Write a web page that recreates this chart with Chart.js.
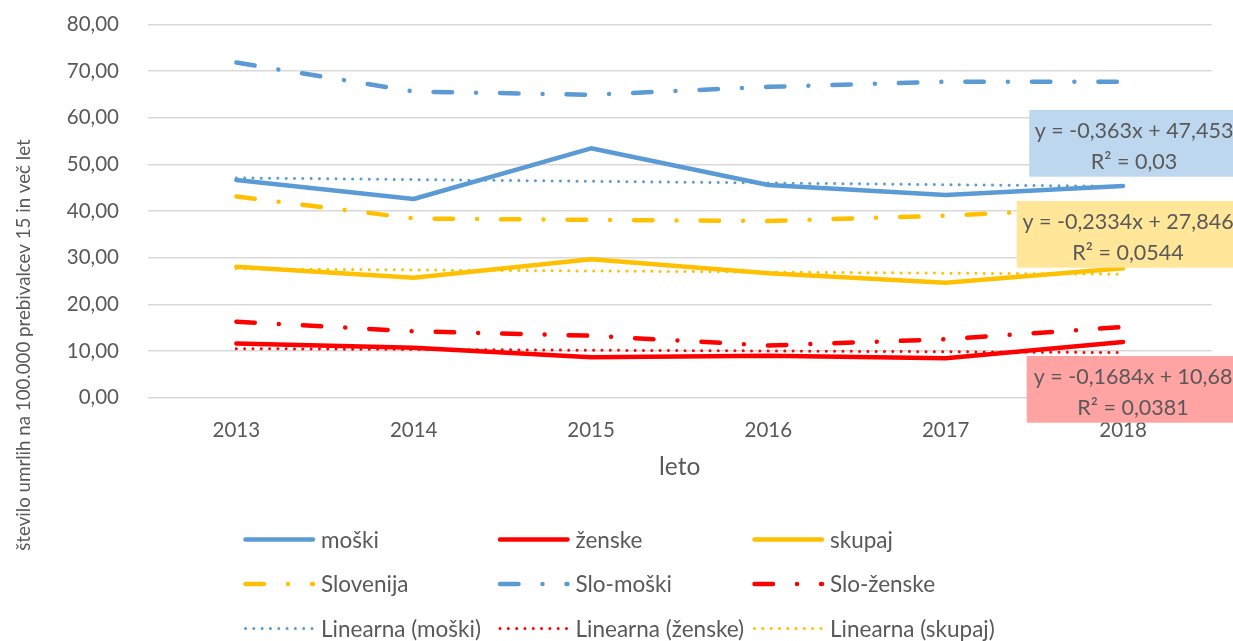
<!DOCTYPE html>
<html>
<head>
<meta charset="utf-8">
<script src="https://cdn.jsdelivr.net/npm/chart.js@4.4.1/dist/chart.umd.min.js"></script>
<style>
html,body{margin:0;padding:0;background:#ffffff;}
#wrap{width:1233px;height:641px;position:relative;}
</style>
</head>
<body>
<div id="wrap"><canvas id="c" width="1233" height="641"></canvas></div>
<script>
// ---- data ----
const categories = ['2013', '2014', '2015', '2016', '2017', '2018'];
const moski = [46.64, 42.57, 53.43, 45.57, 43.43, 45.36];
const zenske = [11.6, 10.71, 8.66, 9.0, 8.44, 11.95];
const skupaj = [28.07, 25.71, 29.65, 26.65, 24.64, 27.72];
const slovenija = [43.1, 38.4, 38.1, 37.86, 39.0, 40.8];
const sloMoski = [71.8, 65.6, 64.9, 66.6, 67.7, 67.7];
const sloZenske = [16.28, 14.22, 13.28, 11.18, 12.53, 15.15];
const trendMoski = [47.09, 46.73, 46.36, 46.0, 45.64, 45.28];
const trendZenske = [10.51, 10.34, 10.17, 10.01, 9.84, 9.67];
const trendSkupaj = [27.61, 27.38, 27.15, 26.91, 26.68, 26.45];
const seriesNames = ['moški', 'ženske', 'skupaj', 'Slovenija', 'Slo-moški', 'Slo-ženske',
  'Linearna (moški)', 'Linearna (ženske)', 'Linearna (skupaj)'];
const yTickLabels = ['0,00', '10,00', '20,00', '30,00', '40,00', '50,00', '60,00', '70,00', '80,00'];
const trendLabels = [
  ['y = -0,363x + 47,453', 'R² = 0,03'],
  ['y = -0,2334x + 27,846', 'R² = 0,0544'],
  ['y = -0,1684x + 10,68', 'R² = 0,0381']
];
const yAxisTitle = 'število umrlih na 100.000 prebivalcev 15 in več let';
const xAxisTitle = 'leto';

// ---- styles ----
const BLUE = '#5B9BD5', RED = '#FF0000', YELLOW = '#FFC000';
const TEXT = '#595959';
const FONT = 'Lato, "Open Sans", sans-serif';
const DASHDOT = [18.5, 24, 0.01, 24];
const DOTS = [0.01, 8.3];

function solid(label, data, color) {
  return { label, data, borderColor: color, backgroundColor: color, borderWidth: 4.5,
    borderCapStyle: 'round', borderJoinStyle: 'round', pointRadius: 0, pointHoverRadius: 0,
    fill: false, tension: 0, order: 2 };
}
function dashdot(label, data, color) {
  return { label, data, borderColor: color, backgroundColor: color, borderWidth: 4.5,
    borderDash: DASHDOT, borderCapStyle: 'round', borderJoinStyle: 'round', pointRadius: 0,
    pointHoverRadius: 0, fill: false, tension: 0, order: 2 };
}
function trend(label, data, color) {
  return { label, data, borderColor: color, backgroundColor: color, borderWidth: 3,
    borderDash: DOTS, borderCapStyle: 'round', borderJoinStyle: 'round', pointRadius: 0,
    pointHoverRadius: 0, fill: false, tension: 0, order: 1 };
}

const excelLegend = {
  id: 'excelLegend',
  afterDraw(chart, args, o) {
    const ctx = chart.ctx;
    chart.data.datasets.forEach((ds, i) => {
      const col = i % 3, row = Math.floor(i / 3);
      const x0 = o.x0 + col * o.colW;
      const y = o.y0 + row * o.rowH;
      ctx.save();
      ctx.strokeStyle = ds.borderColor;
      ctx.lineWidth = ds.borderWidth;
      ctx.lineCap = 'round';
      ctx.setLineDash(ds.borderDash || []);
      ctx.beginPath();
      ctx.moveTo(x0, y);
      ctx.lineTo(x0 + o.sampleLen, y);
      ctx.stroke();
      ctx.setLineDash([]);
      ctx.fillStyle = TEXT;
      ctx.font = o.fontSize + 'px ' + FONT;
      ctx.textAlign = 'left';
      ctx.textBaseline = 'middle';
      ctx.fillText(ds.label, o.textX0 + col * o.colW, y + 1);
      ctx.restore();
    });
  }
};

const yTitlePlugin = {
  id: 'yTitle',
  afterDraw(chart, args, o) {
    const ctx = chart.ctx;
    ctx.save();
    ctx.translate(o.x, o.y);
    ctx.rotate(-Math.PI / 2);
    ctx.fillStyle = TEXT;
    ctx.font = o.fontSize + 'px ' + FONT;
    ctx.textAlign = 'center';
    ctx.textBaseline = 'middle';
    ctx.fillText(o.text, 0, 0);
    ctx.restore();
  }
};

const trendBoxes = {
  id: 'trendBoxes',
  afterDraw(chart, args, o) {
    const ctx = chart.ctx;
    o.boxes.forEach((b, i) => {
      ctx.save();
      ctx.fillStyle = b.fill;
      ctx.fillRect(b.x, b.y, b.w, b.h);
      ctx.fillStyle = TEXT;
      ctx.font = o.fontSize + 'px ' + FONT;
      ctx.textAlign = 'center';
      ctx.textBaseline = 'middle';
      const lines = trendLabels[i];
      ctx.fillText(lines[0], b.cx, b.y + o.line1);
      ctx.fillText(lines[1], b.cx, b.y + o.line2);
      ctx.restore();
    });
  }
};

new Chart(document.getElementById('c'), {
  type: 'line',
  data: {
    labels: categories,
    datasets: [
      solid(seriesNames[0], moski, BLUE),
      solid(seriesNames[1], zenske, RED),
      solid(seriesNames[2], skupaj, YELLOW),
      dashdot(seriesNames[3], slovenija, YELLOW),
      dashdot(seriesNames[4], sloMoski, BLUE),
      dashdot(seriesNames[5], sloZenske, RED),
      trend(seriesNames[6], trendMoski, BLUE),
      trend(seriesNames[7], trendZenske, RED),
      trend(seriesNames[8], trendSkupaj, YELLOW)
    ]
  },
  options: {
    responsive: false,
    devicePixelRatio: 1,
    animation: false,
    events: [],
    layout: { padding: { top: 24.3, right: 21.3, left: 0, bottom: 0 } },
    plugins: {
      legend: { display: false },
      tooltip: { enabled: false },
      excelLegend: { x0: 245.5, textX0: 321, colW: 254.5, y0: 539.5, rowH: 44.5, sampleLen: 67.5, fontSize: 22.5 },
      yTitle: { text: yAxisTitle, x: 23.5, y: 345, fontSize: 18.7 },
      trendBoxes: {
        fontSize: 21.5, line1: 21, line2: 52,
        boxes: [
          { x: 1029.3, y: 110, w: 210, h: 66.7, fill: '#BDD7EE', cx: 1134 },
          { x: 1016.7, y: 201, w: 220, h: 66.7, fill: '#FFE699', cx: 1128 },
          { x: 1026.7, y: 356, w: 210, h: 66.7, fill: '#FFA3A3', cx: 1133 }
        ]
      }
    },
    scales: {
      x: {
        offset: true,
        grid: { display: false, drawTicks: false },
        border: { display: false },
        ticks: { color: TEXT, font: { family: FONT, size: 20.5 }, padding: 20, maxRotation: 0 },
        title: { display: true, text: xAxisTitle, color: TEXT, font: { family: FONT, size: 24.5 }, padding: { top: 0, bottom: 159.5 } },
        afterFit(s) { s.height = 243.3; s.paddingLeft = 0; s.paddingRight = 0; }
      },
      y: {
        min: 0, max: 80,
        grid: { color: '#D9D9D9', lineWidth: 1.5, drawTicks: false },
        border: { display: false },
        ticks: { stepSize: 10, color: TEXT, font: { family: FONT, size: 20.5 }, padding: 28.7,
          callback: (v, i) => yTickLabels[i] },
        afterFit(s) { s.width = 147.7; s.paddingTop = 0; s.paddingBottom = 0; }
      }
    }
  },
  plugins: [excelLegend, yTitlePlugin, trendBoxes]
});
</script>
</body>
</html>
